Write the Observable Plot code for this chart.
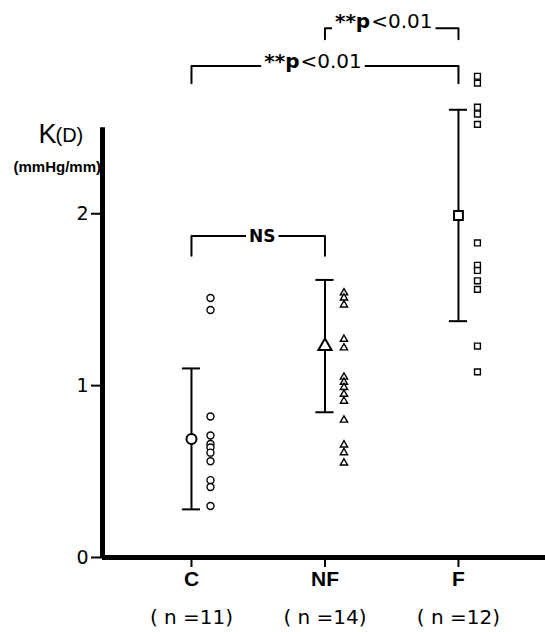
<!DOCTYPE html>
<html>
<head>
<meta charset="utf-8">
<script src="https://cdn.jsdelivr.net/npm/d3@7"></script>
<script src="https://cdn.jsdelivr.net/npm/@observablehq/plot@0.6"></script>
<style>
  html, body { margin: 0; padding: 0; background: #fff; }
  #chart svg { display: block; }
</style>
</head>
<body>
<div id="chart"></div>
<script>
// ---- data ----
const groups = ["C", "NF", "F"];
const nLabels = ["( n =11)", "( n =14)", "( n =12)"];
const cValues = [1.51, 1.44, 0.82, 0.71, 0.66, 0.64, 0.61, 0.56, 0.45, 0.41, 0.30];
const nfValues = [1.54, 1.51, 1.47, 1.27, 1.22, 1.05, 1.02, 0.99, 0.95, 0.91, 0.80, 0.655, 0.61, 0.55];
const fValues = [2.80, 2.76, 2.62, 2.58, 2.52, 1.83, 1.70, 1.67, 1.61, 1.56, 1.23, 1.08];
const groupMeans = [0.69, 1.23, 1.99];
const groupSDs = [0.41, 0.385, 0.615];
const yTicks = [0, 1, 2];
const comparisons = [
  {from: "C", to: "NF", bold: "NS", rest: "", level: 1.87, drop: 0.115},
  {from: "C", to: "F", bold: "**p", rest: "<0.01", level: 2.86, drop: 0.10},
  {from: "NF", to: "F", bold: "**p", rest: "<0.01", level: 3.08, drop: 0.065}
];

// ---- styling constants ----
const symbols = ["circle", "triangle", "square"];
const pointR = [3.5, 2.7, 3.3];
const meanR = [5, 4.9, 5];
const capHalf = 0.068;
const textDx = [4, -12, -8];   // px offsets of label centres from bracket middle
const textDy = [0, -4, -7];
const FONT = "DejaVu Sans";

const gx = g => groups.indexOf(g) + 1;
const valuesByGroup = [cValues, nfValues, fValues];
const points = valuesByGroup.map((vals, i) => vals.map(v => ({group: groups[i], v})));
const stats = groups.map((g, i) => ({group: g, m: groupMeans[i], s: groupSDs[i]}));
const caps = stats.flatMap(d => [{group: d.group, y: d.m - d.s}, {group: d.group, y: d.m + d.s}]);

const xMin = 0.3334, xMax = 3.652;

const marks = [];
// axes lines
marks.push(Plot.ruleY([0], {strokeWidth: 5}));
marks.push(Plot.ruleX([xMin], {y1: 0, y2: 2.5, strokeWidth: 5}));
marks.push(Plot.axisY({ticks: yTicks, tickSize: 11, tickPadding: 3, fontSize: 19, fontFamily: FONT, strokeWidth: 2, label: null, tickFormat: d => String(d)}));
marks.push(Plot.axisX({ticks: [1, 2, 3], tickSize: 10, tickPadding: 4, tickFormat: d => groups[d - 1], fontSize: 21, fontWeight: "bold", fontFamily: "Liberation Sans", strokeWidth: 2, label: null}));
marks.push(Plot.text(nLabels, {x: (d, i) => i + 1, y: () => 0, text: d => d, dy: 60, fontSize: 20, fontFamily: FONT}));

// error bars
marks.push(Plot.ruleX(stats, {x: d => gx(d.group), y1: d => d.m - d.s, y2: d => d.m + d.s, strokeWidth: 2}));
marks.push(Plot.ruleY(caps, {y: "y", x1: d => gx(d.group) - capHalf, x2: d => gx(d.group) + capHalf, strokeWidth: 2}));

// individual points & means
groups.forEach((g, i) => {
  marks.push(Plot.dot(points[i], {x: d => gx(d.group), y: "v", dx: 19, symbol: symbols[i], r: pointR[i], stroke: "black", strokeWidth: 1.4, fill: "white"}));
  marks.push(Plot.dot([stats[i]], {x: d => gx(d.group), y: "m", symbol: symbols[i], r: meanR[i], stroke: "black", strokeWidth: 2, fill: "white"}));
});

// comparison brackets
comparisons.forEach((c, i) => {
  const path = [
    {x: gx(c.from), y: c.level - c.drop},
    {x: gx(c.from), y: c.level},
    {x: gx(c.to), y: c.level},
    {x: gx(c.to), y: c.level - c.drop}
  ];
  marks.push(Plot.line(path, {x: "x", y: "y", strokeWidth: 2, curve: "linear"}));
  const mid = (gx(c.from) + gx(c.to)) / 2;
  marks.push(Plot.text([c], {
    x: () => mid, y: d => d.level, text: d => d.bold + d.rest,
    dx: textDx[i], dy: textDy[i], fontSize: c.rest ? 20 : 17, fontWeight: c.rest ? "normal" : "bold",
    fontFamily: FONT, fill: "black",
    className: "cmp-label"
  }));
});

// y-axis title
marks.push(Plot.text(["K"], {frameAnchor: "top-left", text: d => d, dx: -64, dy: 135, textAnchor: "start", lineAnchor: "bottom", fontSize: 27, fontFamily: "Liberation Sans"}));
marks.push(Plot.text(["(D)"], {frameAnchor: "top-left", text: d => d, dx: -47, dy: 134, textAnchor: "start", lineAnchor: "bottom", fontSize: 20, fontFamily: "Liberation Sans"}));
marks.push(Plot.text(["(mmHg/mm)"], {frameAnchor: "top-left", text: d => d, dx: -89, dy: 164, textAnchor: "start", lineAnchor: "bottom", fontSize: 15, fontWeight: "bold", fontFamily: "Liberation Sans"}));

const chart = Plot.plot({
  width: 545,
  height: 632,
  marginLeft: 102,
  marginRight: 0,
  marginTop: 7,
  marginBottom: 75,
  x: {domain: [xMin, xMax], axis: null},
  y: {domain: [0, 3.2], axis: null},
  style: {fontFamily: FONT, background: "white", color: "black"},
  marks
});

const ns = "http://www.w3.org/2000/svg";
// make the "**p" part bold inside the p-value labels
chart.querySelectorAll("g.cmp-label text").forEach(t => {
  const s = t.textContent;
  const c = comparisons.find(c => c.rest && c.bold + c.rest === s);
  if (!c) return;
  t.textContent = "";
  const b = document.createElementNS(ns, "tspan");
  b.setAttribute("font-weight", "bold");
  b.textContent = c.bold;
  const r = document.createElementNS(ns, "tspan");
  r.setAttribute("dx", "1");
  r.textContent = c.rest;
  t.appendChild(b);
  t.appendChild(r);
});
document.getElementById("chart").appendChild(chart);

// white gap behind each bracket label so the bracket line is interrupted
chart.querySelectorAll("g.cmp-label text").forEach(t => {
  const bb = t.getBBox();
  const rect = document.createElementNS(ns, "rect");
  rect.setAttribute("x", bb.x - 3);
  rect.setAttribute("y", bb.y);
  rect.setAttribute("width", bb.width + 6);
  rect.setAttribute("height", bb.height);
  rect.setAttribute("fill", "white");
  const tr = t.getAttribute("transform");
  if (tr) rect.setAttribute("transform", tr);
  t.parentNode.insertBefore(rect, t);
});
</script>
</body>
</html>
